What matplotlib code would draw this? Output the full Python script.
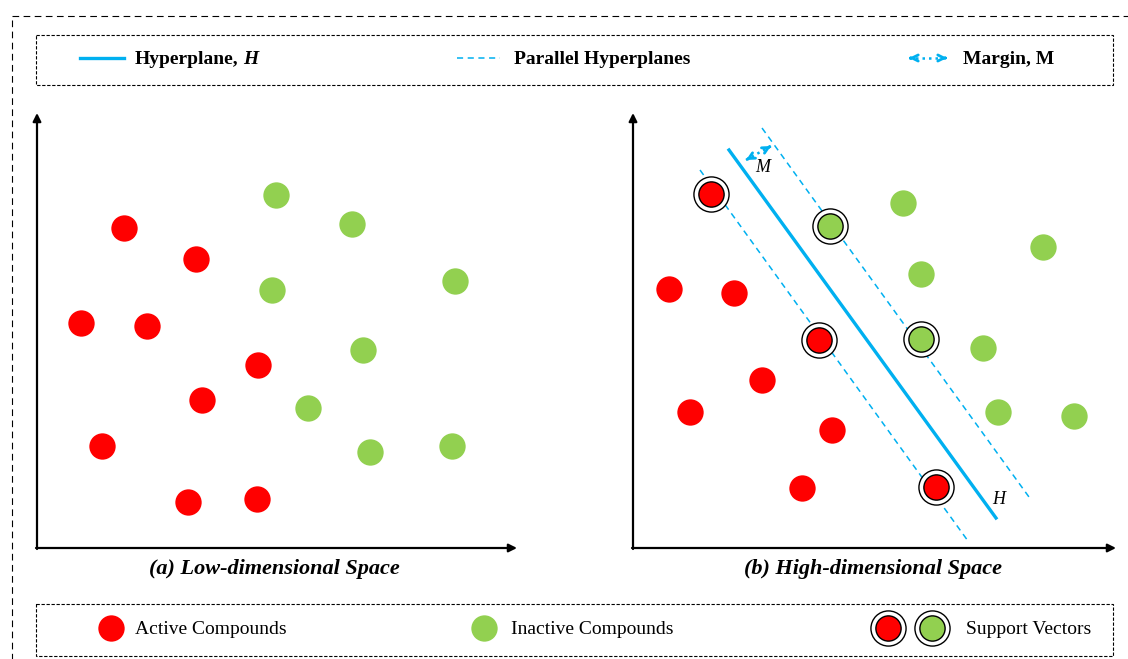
import matplotlib.pyplot as plt
from matplotlib.patches import Rectangle
import numpy as np

# colours
RED = "#FF0000"
GREEN = "#92D050"
BLUE = "#00B0F0"

# panel (a) points, pixel coordinates
a_red_x = [124, 196, 81, 147, 258, 202, 102, 188, 257]
a_red_y = [228, 259, 323, 326, 365, 400, 446, 502, 499]
a_green_x = [276, 352, 272, 455, 363, 308, 370, 452]
a_green_y = [195, 224, 290, 281, 350, 408, 452, 446]

# panel (b) points
b_red_x = [669, 734, 762, 690, 832, 802]
b_red_y = [289, 293, 380, 412, 430, 488]
b_green_x = [903, 1043, 921, 983, 998, 1074]
b_green_y = [203, 247, 274, 348, 412, 416]
# support vectors
sv_red_x = [711, 819, 936]
sv_red_y = [194, 340, 487]
sv_green_x = [830, 921]
sv_green_y = [226, 339]

# hyperplanes (start, end)
hyper = [(729, 150), (996, 518)]
par_left = [(700, 170), (968, 541)]
par_right = [(762, 128), (1029, 497)]

fig = plt.figure(figsize=(11.28, 6.59), dpi=100)
ax = fig.add_axes([0, 0, 1, 1])
ax.set_xlim(0, 1128)
ax.set_ylim(659, 0)
ax.axis("off")

serif = "Liberation Serif"
S_DOT = 360
S_RING = 640


def margin_arrow(p0, p1):
    # dotted shaft, solid open heads at both ends
    ax.plot([p0[0], p1[0]], [p0[1], p1[1]], color=BLUE, lw=1.8, ls=(0, (1, 1.6)))
    d = np.array(p1, float) - np.array(p0, float)
    d /= np.hypot(*d)
    for tip, sgn in ((p1, 1), (p0, -1)):
        back = np.array(tip) - sgn * d * 2
        ax.annotate("", xy=tip, xytext=back,
                    arrowprops=dict(arrowstyle="->", color=BLUE, lw=2, mutation_scale=11, shrinkA=0, shrinkB=0))


# outer dashed frame
ax.add_patch(Rectangle((12, 16), 1140, 700, fill=False, ls=(0, (6, 4)), lw=0.8, ec="k"))
# legend boxes
ax.add_patch(Rectangle((36, 35), 1077, 50, fill=False, ls=(0, (3, 1.5)), lw=0.8, ec="k"))
ax.add_patch(Rectangle((36, 604), 1077, 52, fill=False, ls=(0, (3, 1.5)), lw=0.8, ec="k"))

# axes with arrows
for x0, x1 in [(37, 517), (633, 1116)]:
    ax.annotate("", xy=(x1, 548), xytext=(x0 - 1, 548),
                arrowprops=dict(arrowstyle="-|>", color="k", lw=1.6, mutation_scale=12, shrinkA=0, shrinkB=0))
    ax.annotate("", xy=(x0, 113), xytext=(x0, 549),
                arrowprops=dict(arrowstyle="-|>", color="k", lw=1.6, mutation_scale=12, shrinkA=0, shrinkB=0))

# hyperplanes
ax.plot([hyper[0][0], hyper[1][0]], [hyper[0][1], hyper[1][1]], color=BLUE, lw=2.4)
for ln in (par_left, par_right):
    ax.plot([ln[0][0], ln[1][0]], [ln[0][1], ln[1][1]], color=BLUE, lw=1.1, ls=(0, (4, 3)))

# margin arrow
margin_arrow((746, 160), (771, 146))
ax.text(755, 168, "M", fontsize=13, family=serif, style="italic", ha="left", va="center")
ax.text(992, 500, "H", fontsize=13, family=serif, style="italic", ha="left", va="center")

# points
ax.scatter(a_red_x, a_red_y, s=S_DOT, color=RED, lw=0, zorder=3)
ax.scatter(a_green_x, a_green_y, s=S_DOT, color=GREEN, lw=0, zorder=3)
ax.scatter(b_red_x, b_red_y, s=S_DOT, color=RED, lw=0, zorder=3)
ax.scatter(b_green_x, b_green_y, s=S_DOT, color=GREEN, lw=0, zorder=3)
ax.scatter(sv_red_x + sv_green_x, sv_red_y + sv_green_y, s=S_RING, color="white", ec="k", lw=1, zorder=3)
ax.scatter(sv_red_x, sv_red_y, s=S_DOT - 30, color=RED, ec="k", lw=1, zorder=4)
ax.scatter(sv_green_x, sv_green_y, s=S_DOT - 30, color=GREEN, ec="k", lw=1, zorder=4)

# captions
ax.text(274, 569, "(a) Low-dimensional Space", fontsize=16, family=serif, weight="bold", style="italic", ha="center", va="center")
ax.text(873, 569, "(b) High-dimensional Space", fontsize=16, family=serif, weight="bold", style="italic", ha="center", va="center")

# top legend
ax.plot([80, 124], [58, 58], color=BLUE, lw=2.4)
t = ax.text(135, 59, "Hyperplane,", fontsize=14, family=serif, weight="bold", ha="left", va="center")
fig.canvas.draw()
bb = t.get_window_extent().transformed(ax.transData.inverted())
ax.text(bb.x1 + 5, 59, "H", fontsize=14, family=serif, weight="bold", style="italic", ha="left", va="center")
ax.plot([457, 500], [58, 58], color=BLUE, lw=1.1, ls=(0, (4, 3)))
ax.text(514, 59, "Parallel Hyperplanes", fontsize=14, family=serif, weight="bold", ha="left", va="center")
margin_arrow((909, 58), (947, 58))
ax.text(963, 59, "Margin, M", fontsize=14, family=serif, weight="bold", ha="left", va="center")

# bottom legend
ax.scatter([111], [628], s=S_DOT, color=RED, lw=0)
ax.text(135, 629, "Active Compounds", fontsize=14, family=serif, ha="left", va="center")
ax.scatter([484], [628], s=S_DOT, color=GREEN, lw=0)
ax.text(511, 630, "Inactive Compounds", fontsize=14, family=serif, ha="left", va="center")
ax.scatter([888, 932], [628, 628], s=S_RING, color="white", ec="k", lw=1)
ax.scatter([888], [628], s=S_DOT - 30, color=RED, ec="k", lw=1)
ax.scatter([932], [628], s=S_DOT - 30, color=GREEN, ec="k", lw=1)
ax.text(966, 630, "Support Vectors", fontsize=14, family=serif, ha="left", va="center")

fig.savefig("out.png", dpi=100)
